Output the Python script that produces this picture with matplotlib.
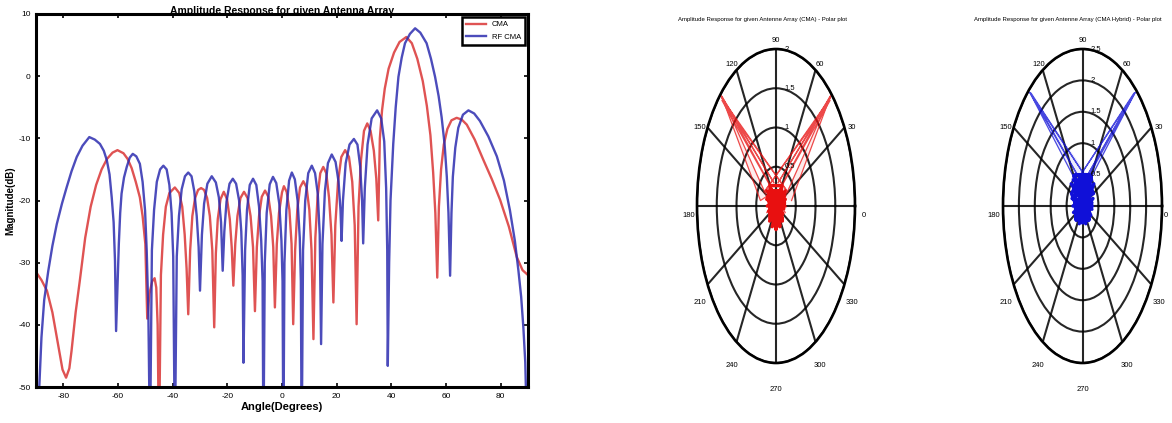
import numpy as np
import matplotlib
matplotlib.use("Agg")
import matplotlib.pyplot as plt

plt.rcParams['font.family'] = ['Liberation Sans', 'DejaVu Sans']
plt.rcParams['axes.unicode_minus'] = False

# ---- datos (angulo en grados, magnitud en dB) ----
cma_angle = [-90, -88, -86, -84, -82, -80.3, -79, -77.8, -77, -75.5, -74, -72, -70, -68, -66, -64, -62,
             -60.2, -58, -56.5, -55, -53.5, -52, -51, -50, -49.3, -48.5, -47.5, -46.6, -46, -45.5, -45.0,
             -44.3, -43.5, -42.5, -41.2, -39.2, -37.6, -36.5, -35.6, -34.9, -34.3,
             -33.6, -32.8, -31.8, -30.7, -29.6, -28.5, -27.4, -26.4, -25.5, -24.8,
             -24.2, -23.5, -22.5, -21.3, -20.1, -19.1, -18.4, -17.8,
             -17.1, -16.3, -15.2, -13.9, -12.6, -11.5, -10.6, -9.9,
             -9.2, -8.4, -7.4, -6.2, -5.0, -4.0, -3.2, -2.6,
             -1.9, -1.1, 0.0, 0.7, 1.7, 2.7, 3.5, 4.1,
             4.8, 5.6, 6.6, 7.8, 9.0, 10.0, 10.8, 11.5,
             12.2, 13.0, 14.0, 15.1, 16.2, 17.2, 18.1, 18.8,
             19.5, 20.5, 21.7, 23.1, 24.5, 25.7, 26.6, 27.3,
             28.0, 28.9, 30.0, 31.2, 32.4, 33.6, 34.5, 35.2,
             35.8, 36.6, 37.6, 39.0, 41.0, 43.0, 45.5, 47.5, 49.5, 51.5, 53.0, 54.3, 55.3, 56.1, 56.8,
             57.4, 58.2, 59.2, 60.5, 62.0, 63.9, 65.8, 67.6, 70.5, 73.7, 76.8, 79.8, 83.0, 85.9, 88.0, 90]
cma_db = [-31.5, -32.8, -34.5, -38, -43, -47.2, -48.5, -47, -44.2, -38, -33, -26, -21, -17.5, -15, -13.3, -12.3,
          -11.9, -12.4, -13.3, -14.8, -17, -19.5, -22.5, -27, -39, -35, -33, -32.5, -34, -40, -60,
          -32, -25.5, -21, -18.8, -17.9, -18.8, -21, -25.5, -31, -38.3,
          -28, -22.5, -19.6, -18.3, -18.0, -18.3, -19.6, -22.5, -28, -40.4,
          -28.5, -23, -19.8, -18.6, -19.8, -23, -27.5, -33.7,
          -27, -22.5, -19.6, -18.6, -19.6, -22.5, -27.5, -37.8,
          -27.5, -22.5, -19.4, -18.4, -19.4, -22.5, -27.5, -37.2,
          -27, -22, -18.7, -17.7, -18.6, -21.5, -27, -39.9,
          -28, -21.5, -17.9, -16.9, -17.9, -21.5, -28, -42.3,
          -26, -19.5, -15.6, -14.6, -15.6, -19.5, -25.5, -36.4,
          -24, -17, -13, -11.9, -13, -17, -24, -39.9,
          -21, -13.5, -8.8, -7.6, -8.8, -12, -16.5, -23.2,
          -10, -5.5, -2, 1.2, 3.8, 5.5, 6.3, 5.3, 2.8, -0.8, -4.8, -9.5, -15.5, -22, -32.4,
          -21, -15, -11, -8.5, -7.1, -6.7, -7.0, -7.8, -10.2, -13.5, -16.6, -19.9, -24.2, -29.1, -31.2, -32.0]

rfcma_angle = [-90, -88.8, -88, -87, -85.5, -84, -82.4, -80.5, -78.8, -77, -75.1, -73, -70.5, -68.5, -66.6,
               -65.2, -64.1, -63.1, -62.3, -61.6, -61.1, -60.7, -60.2, -59.7, -59.2, -58.7, -57.8, -56.8,
               -55.7, -54.6, -53.3, -52.0, -51, -50.1, -49.5, -48.9, -48.3,
               -47.6, -46.8, -45.8, -44.6, -43.4, -42.2, -41.2, -40.4, -39.8, -39.2,
               -38.5, -37.7, -36.7, -35.5, -34.3, -33.1, -32.1, -31.2, -30.5, -30.0,
               -29.3, -28.5, -27.3, -25.7, -24.2, -23.1, -22.3, -21.7,
               -21.1, -20.3, -19.2, -18.0, -16.8, -15.7, -14.9, -14.4, -14.1,
               -13.5, -12.8, -11.8, -10.6, -9.4, -8.4, -7.6, -7.1, -6.8,
               -6.3, -5.6, -4.5, -3.3, -2.1, -1.0, -0.2, 0.2, 0.5,
               0.9, 1.6, 2.6, 3.6, 4.7, 5.7, 6.5, 6.9, 7.2,
               7.7, 8.5, 9.6, 10.9, 12.1, 13.1, 13.8, 14.3,
               14.8, 15.7, 16.8, 18.2, 19.6, 20.7, 21.4, 21.8,
               22.3, 23.3, 24.7, 26.3, 27.6, 28.6, 29.3, 29.7,
               30.3, 31.3, 32.8, 34.8, 36.3, 37.4, 38.1, 38.5, 38.7,
               39.2, 39.7, 40.7, 41.6, 42.6, 43.8, 45.0, 46.8, 48.7, 50.6, 52.9, 54.5, 56.0, 57.3, 58.4,
               59.5, 60.3, 60.9, 61.2, 61.5,
               62.0, 62.5, 63.4, 64.5, 66.2, 68.2, 70.3, 72.4, 75.5, 78.6, 81.2, 83.4, 85.2, 86.5, 87.5,
               88.3, 89.0, 89.5, 90]
rfcma_db = [-60, -50, -42, -36, -31.3, -27.3, -23.8, -20.5, -17.9, -15.3, -13.0, -11.2, -9.8, -10.2, -10.9,
            -12, -13.5, -15.8, -19.5, -23.5, -29.7, -41.0, -34, -27, -22, -18.9, -16.3, -14.6,
            -13.1, -12.5, -12.9, -14.1, -17, -21.6, -28, -37.7, -60,
            -28, -21.5, -17, -15, -14.4, -15, -17.5, -22, -29, -60,
            -29, -22.5, -18.2, -16.1, -15.5, -16.1, -18.5, -22.5, -27.5, -34.5,
            -25.5, -20.5, -17.3, -16.1, -17.1, -19.5, -23.5, -31.3,
            -25, -20.2, -17.3, -16.5, -17.3, -20, -25, -32, -46.1,
            -28, -21.5, -17.5, -16.5, -17.5, -21, -26.5, -33, -60,
            -30, -22, -17.4, -16.2, -17.2, -20.5, -26.5, -33, -60,
            -30, -21.5, -16.8, -15.5, -16.6, -20, -26, -33, -60,
            -28, -20, -15.6, -14.4, -15.6, -19, -25.5, -43.1,
            -27, -18.5, -14, -12.6, -13.8, -17, -21.5, -26.5,
            -20, -14, -11, -10.1, -11, -14.5, -20, -26.9,
            -18, -11, -6.8, -5.5, -6.8, -10.5, -18, -28, -46.6,
            -30, -20, -10.9, -5, -0.1, 3, 5.3, 6.8, 7.7, 7.0, 5.3, 2.8, -0.1, -3.2, -6.6,
            -11, -16.2, -22, -26.9, -32.1,
            -22, -16.2, -11.5, -8.3, -6.2, -5.5, -6.0, -7.2, -9.7, -12.9, -16.8, -21.6, -26.5, -31.3, -35.5,
            -40.4, -46, -55, -60]

x_ticks = [-80, -60, -40, -20, 0, 20, 40, 60, 80]
y_ticks = [-50, -40, -30, -20, -10, 0, 10]

# ---- datos de los graficos polares (angulo en grados, amplitud lineal) ----
cma_blob_theta = [0, 200, 20, 230, 40, 250, 60, 270, 80, 290, 100, 310, 120, 330, 140, 350, 160, 10, 180,
                  30, 90, 150, 270, 60, 120, 225, 315, 75, 105]
cma_blob_r = [0.22, 0.2, 0.25, 0.25, 0.3, 0.28, 0.25, 0.3, 0.2, 0.28, 0.2, 0.25, 0.25, 0.2, 0.3, 0.2, 0.25,
              0.22, 0.22, 0.25, 0.18, 0.25, 0.28, 0.3, 0.3, 0.22, 0.22, 0.2, 0.2]
# abanico derecho y abanico izquierdo (lineas que salen del centro hasta el lobulo)
cma_fan_theta = [10, 45.5, 80, 45, 150, 44.5, 200, 45.5, 30, 90,
                 170, 134.5, 100, 135, 30, 135.5, 340, 134.5, 150]
cma_fan_r = [0.4, 1.97, 0.3, 1.95, 0.35, 1.92, 0.25, 1.95, 0.3, 0.2,
             0.4, 1.97, 0.3, 1.95, 0.35, 1.92, 0.25, 1.95, 0.3]

hyb_blob_theta = [0, 200, 20, 230, 45, 250, 60, 270, 80, 290, 100, 310, 120, 330, 135, 350, 160, 10, 180,
                  30, 90, 150, 270, 65, 115, 225, 315, 80, 100, 55, 125]
hyb_blob_r = [0.3, 0.3, 0.35, 0.3, 0.5, 0.3, 0.55, 0.27, 0.5, 0.3, 0.5, 0.3, 0.55, 0.3, 0.5, 0.3, 0.35,
              0.3, 0.3, 0.4, 0.5, 0.4, 0.25, 0.55, 0.55, 0.3, 0.3, 0.5, 0.5, 0.5, 0.5]
hyb_fan_theta = [60, 47.5, 110, 48, 160, 47.5, 90,
                 120, 132.5, 70, 132, 20, 132.5]
hyb_fan_r = [0.5, 2.45, 0.45, 2.42, 0.3, 2.45, 0.3,
             0.5, 2.45, 0.45, 2.42, 0.3, 2.45]

fig = plt.figure(figsize=(11.72, 4.23), dpi=100)

# ---- grafico cartesiano ----
ax = fig.add_axes([36 / 1172, 1 - 387 / 423, 492 / 1172, 373 / 423])
ax.plot(cma_angle, cma_db, color='#dc4040', lw=1.7, alpha=0.9, label='CMA')
ax.plot(rfcma_angle, rfcma_db, color='#2c2cb0', lw=1.7, alpha=0.85, label='RF CMA')
ax.set_xlim(-90, 90)
ax.set_ylim(-50, 10)
ax.set_xticks(x_ticks)
ax.set_yticks(y_ticks)
ax.tick_params(direction='in', length=3, width=1.2, labelsize=6, top=True, right=True, pad=4)
for s in ax.spines.values():
    s.set_linewidth(2.2)
ax.set_title('Amplitude Response for given Antenna Array', fontsize=7.5, fontweight='bold', pad=0)
ax.set_xlabel('Angle(Degrees)', fontsize=8, fontweight='bold', labelpad=2)
ax.set_ylabel('Magnitude(dB)', fontsize=7, fontweight='bold', labelpad=2)
leg = ax.legend(loc='upper right', fontsize=5.5, handlelength=2.6, borderaxespad=0.4,
                fancybox=False, framealpha=1, borderpad=0.5, labelspacing=0.7)
leg.get_frame().set_edgecolor('k')
leg.get_frame().set_linewidth(1.8)


def polar_panel(rect, rmax, rings, blob_t, blob_r, fan_t, fan_r, color, title, title_x):
    pax = fig.add_axes(rect, projection='polar')
    pax.set_aspect('auto')
    pax.fill(np.radians(fan_t), fan_r, color=color, alpha=0.08, lw=0)
    pax.plot(np.radians(fan_t), fan_r, color=color, lw=0.9, alpha=0.75)
    pax.plot(np.radians(blob_t), blob_r, color=color, lw=2.5)
    pax.set_ylim(0, rmax)
    pax.set_thetagrids(range(0, 360, 30), labels=[])
    pax.set_rgrids(rings, labels=[])
    pax.grid(color='k', lw=1.5, alpha=0.85)
    pax.spines['polar'].set_linewidth(1.9)
    for a in range(0, 360, 30):
        f = 1.11
        if a == 0 and rmax > 2:
            f = 1.05
        pax.annotate(str(a), xy=(np.radians(a), rmax * f), xytext=(0, -6.5), textcoords='offset points',
                     fontsize=5.5, ha='center', va='center', annotation_clip=False)
    for r in rings:
        pax.annotate('%g' % r, xy=(np.radians(90), r), xytext=(6, 0), textcoords='offset points',
                     fontsize=5.5, ha='left', va='center')
    fig.text(title_x / 1172, 1 - 19 / 423, title, fontsize=4.3, ha='center', va='center')
    return pax


polar_panel([697 / 1172, 1 - 363 / 423, 158 / 1172, 314 / 423], 2, [0.5, 1, 1.5, 2],
            cma_blob_theta, cma_blob_r, cma_fan_theta, cma_fan_r, '#e81010',
            'Amplitude Response for given Antenne Array (CMA) - Polar plot', 763)
polar_panel([1003 / 1172, 1 - 363 / 423, 159 / 1172, 314 / 423], 2.5, [0.5, 1, 1.5, 2, 2.5],
            hyb_blob_theta, hyb_blob_r, hyb_fan_theta, hyb_fan_r, '#1010d8',
            'Amplitude Response for given Antenne Array (CMA Hybrid) - Polar plot', 1068)

fig.savefig('out.png', dpi=100)
